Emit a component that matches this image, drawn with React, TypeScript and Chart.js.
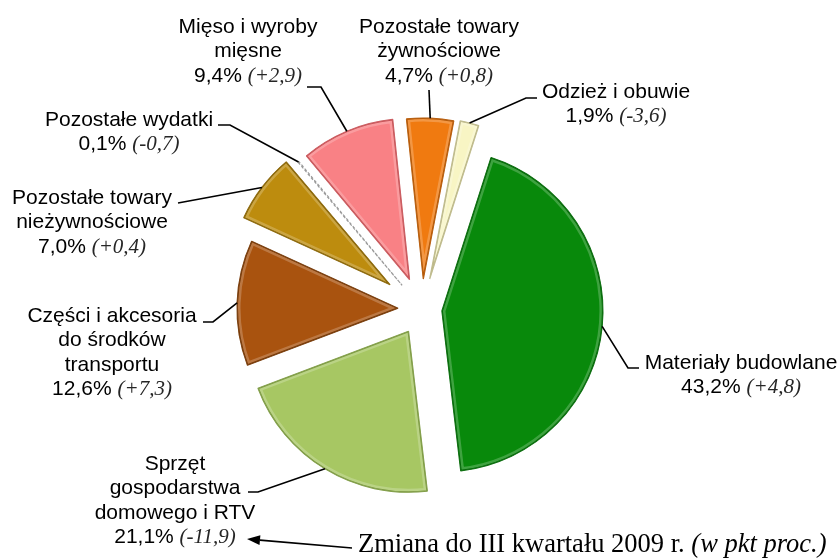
import React, { useEffect, useRef } from "react";
import { Chart, registerables } from "chart.js";

Chart.register(...registerables);

// ---- data ----
const categories = [
  "Pozostałe towary żywnościowe",
  "Odzież i obuwie",
  "Materiały budowlane",
  "Sprzęt gospodarstwa domowego i RTV",
  "Części i akcesoria do środków transportu",
  "Pozostałe towary nieżywnościowe",
  "Pozostałe wydatki",
  "Mięso i wyroby mięsne",
];
const shares = [4.7, 1.9, 43.2, 21.1, 12.6, 7.0, 0.1, 9.4];
const changes = ["+0,8", "-3,6", "+4,8", "-11,9", "+7,3", "+0,4", "-0,7", "+2,9"];
const nameLines = [
  ["Pozostałe towary", "żywnościowe"],
  ["Odzież i obuwie"],
  ["Materiały budowlane"],
  ["Sprzęt", "gospodarstwa", "domowego i RTV"],
  ["Części i akcesoria", "do środków", "transportu"],
  ["Pozostałe towary", "nieżywnościowe"],
  ["Pozostałe wydatki"],
  ["Mięso i wyroby", "mięsne"],
];
const footnoteMain = "Zmiana do III kwartału 2009 r. ";
const footnoteItalic = "(w pkt proc.)";

// ---- styles / layout ----
const colors = ["#F07A10", "#F8F5C4", "#08890B", "#A7C763", "#A9530F", "#BD8C0E", "#FFFFFF", "#F98185"];
const edgeColors = ["#B65A08", "#BDB98A", "#056A08", "#7F9C45", "#773A08", "#8A6608", "#9A9A9A", "#C9575B"];
const highlight = [true, true, true, true, true, true, false, true];
const explode = [30, 31, 20, 26, 24, 40, 31, 32];

const labelLayout = [
  { cx: 439, y: 33, leader: [[429, 90]] },
  { cx: 616, y: 98, leader: [[537, 98], [526, 98]] },
  { cx: 741, y: 369, leader: [[639, 368], [628, 368]] },
  { cx: 175, y: 470, leader: [[248, 492], [258, 492]] },
  { cx: 112, y: 322, leader: [[203, 322], [213, 322]] },
  { cx: 92, y: 204, leader: [[178, 203]] },
  { cx: 129, y: 126, leader: [[218, 125], [230, 125]] },
  { cx: 248, y: 33, leader: [[307, 87], [321, 87]] },
];
const LINE_H = 24.3;
const SANS = '21px "Liberation Sans", Arial, sans-serif';
const SERIF_IT = 'italic 21px "Liberation Serif", "Times New Roman", serif';

const explodePlugin = {
  id: "explode",
  beforeDatasetDraw(chart: any, args: any) {
    const ctx = chart.ctx;
    args.meta.data.forEach((arc: any, i: number) => {
      const mid = (arc.startAngle + arc.endAngle) / 2;
      const d = explode[i];
      ctx.save();
      ctx.translate(Math.cos(mid) * d, Math.sin(mid) * d);
      arc.draw(ctx, chart.chartArea);
      if (highlight[i]) {
        // soft bevel: light band just inside the slice outline
        ctx.beginPath();
        ctx.moveTo(arc.x, arc.y);
        ctx.arc(arc.x, arc.y, arc.outerRadius, arc.startAngle, arc.endAngle);
        ctx.closePath();
        ctx.clip();
        ctx.strokeStyle = "rgba(255,255,255,0.22)";
        ctx.lineWidth = 7;
        ctx.lineJoin = "round";
        ctx.stroke();
        ctx.strokeStyle = edgeColors[i];
        ctx.lineWidth = 2;
        ctx.stroke();
      }
      ctx.restore();
    });
    return false;
  },
};

const labelPlugin = {
  id: "pieLabels",
  afterDraw(chart: any) {
    const ctx = chart.ctx;
    const meta = chart.getDatasetMeta(0);
    ctx.save();
    meta.data.forEach((arc: any, i: number) => {
      const mid = (arc.startAngle + arc.endAngle) / 2;
      const r = arc.outerRadius + explode[i];
      const ax = arc.x + Math.cos(mid) * r;
      const ay = arc.y + Math.sin(mid) * r;
      const lay = labelLayout[i];
      // leader
      ctx.strokeStyle = "#000";
      ctx.lineWidth = 1.6;
      ctx.beginPath();
      lay.leader.forEach((p, k) => (k === 0 ? ctx.moveTo(p[0], p[1]) : ctx.lineTo(p[0], p[1])));
      ctx.lineTo(ax, ay);
      ctx.stroke();
      // text
      ctx.fillStyle = "#000";
      ctx.textBaseline = "alphabetic";
      ctx.textAlign = "center";
      ctx.font = SANS;
      const lines = nameLines[i];
      lines.forEach((t, k) => ctx.fillText(t, lay.cx, lay.y + k * LINE_H));
      const valTxt = shares[i].toFixed(1).replace(".", ",") + "% ";
      const chTxt = "(" + changes[i] + ")";
      ctx.font = SANS;
      const w1 = ctx.measureText(valTxt).width;
      ctx.font = SERIF_IT;
      const w2 = ctx.measureText(chTxt).width;
      const x0 = lay.cx - (w1 + w2) / 2;
      const yv = lay.y + lines.length * LINE_H;
      ctx.textAlign = "left";
      ctx.font = SANS;
      ctx.fillStyle = "#000";
      ctx.fillText(valTxt, x0, yv);
      ctx.font = SERIF_IT;
      ctx.fillStyle = "#262626";
      ctx.fillText(chTxt, x0 + w1, yv);
    });
    // footnote
    ctx.fillStyle = "#000";
    ctx.textAlign = "left";
    ctx.font = '26.5px "Liberation Serif", "Times New Roman", serif';
    const fx = 358;
    const fy = 552;
    ctx.fillText(footnoteMain, fx, fy);
    const fw = ctx.measureText(footnoteMain).width;
    ctx.font = 'italic 26.5px "Liberation Serif", "Times New Roman", serif';
    ctx.fillText(footnoteItalic, fx + fw, fy);
    // arrow
    const tail = [352, 548];
    const tip = [247, 539];
    const ang = Math.atan2(tip[1] - tail[1], tip[0] - tail[0]);
    const hl = 13;
    const hw = 5;
    const bx = tip[0] - Math.cos(ang) * hl;
    const by = tip[1] - Math.sin(ang) * hl;
    ctx.strokeStyle = "#000";
    ctx.lineWidth = 1.6;
    ctx.beginPath();
    ctx.moveTo(tail[0], tail[1]);
    ctx.lineTo(bx, by);
    ctx.stroke();
    ctx.beginPath();
    ctx.moveTo(tip[0], tip[1]);
    ctx.lineTo(bx - Math.sin(ang) * hw, by + Math.cos(ang) * hw);
    ctx.lineTo(bx + Math.sin(ang) * hw, by - Math.cos(ang) * hw);
    ctx.closePath();
    ctx.fillStyle = "#000";
    ctx.fill();
    ctx.restore();
  },
};

export default function App() {
  const ref = useRef<HTMLCanvasElement>(null);
  useEffect(() => {
    const chart = new Chart(ref.current as HTMLCanvasElement, {
      type: "pie",
      data: {
        labels: categories,
        datasets: [
          {
            data: shares,
            backgroundColor: colors,
            borderColor: edgeColors,
            borderWidth: 1.2,
            borderDash: (c: any) => (c.dataIndex === 6 ? [3, 2] : []),
          } as any,
        ],
      },
      options: {
        responsive: false,
        animation: false,
        devicePixelRatio: 1,
        rotation: -6,
        radius: 161,
        events: [],
        layout: { padding: { left: 100, right: 96, top: 100, bottom: 40 } },
        plugins: { legend: { display: false }, tooltip: { enabled: false } },
      } as any,
      plugins: [explodePlugin, labelPlugin],
    });
    return () => chart.destroy();
  }, []);
  return (
    <div style={{ position: "absolute", left: 0, top: 0, width: 840, height: 558, background: "#fff" }}>
      <canvas ref={ref} width={840} height={558} style={{ display: "block", width: 840, height: 558 }} />
    </div>
  );
}
